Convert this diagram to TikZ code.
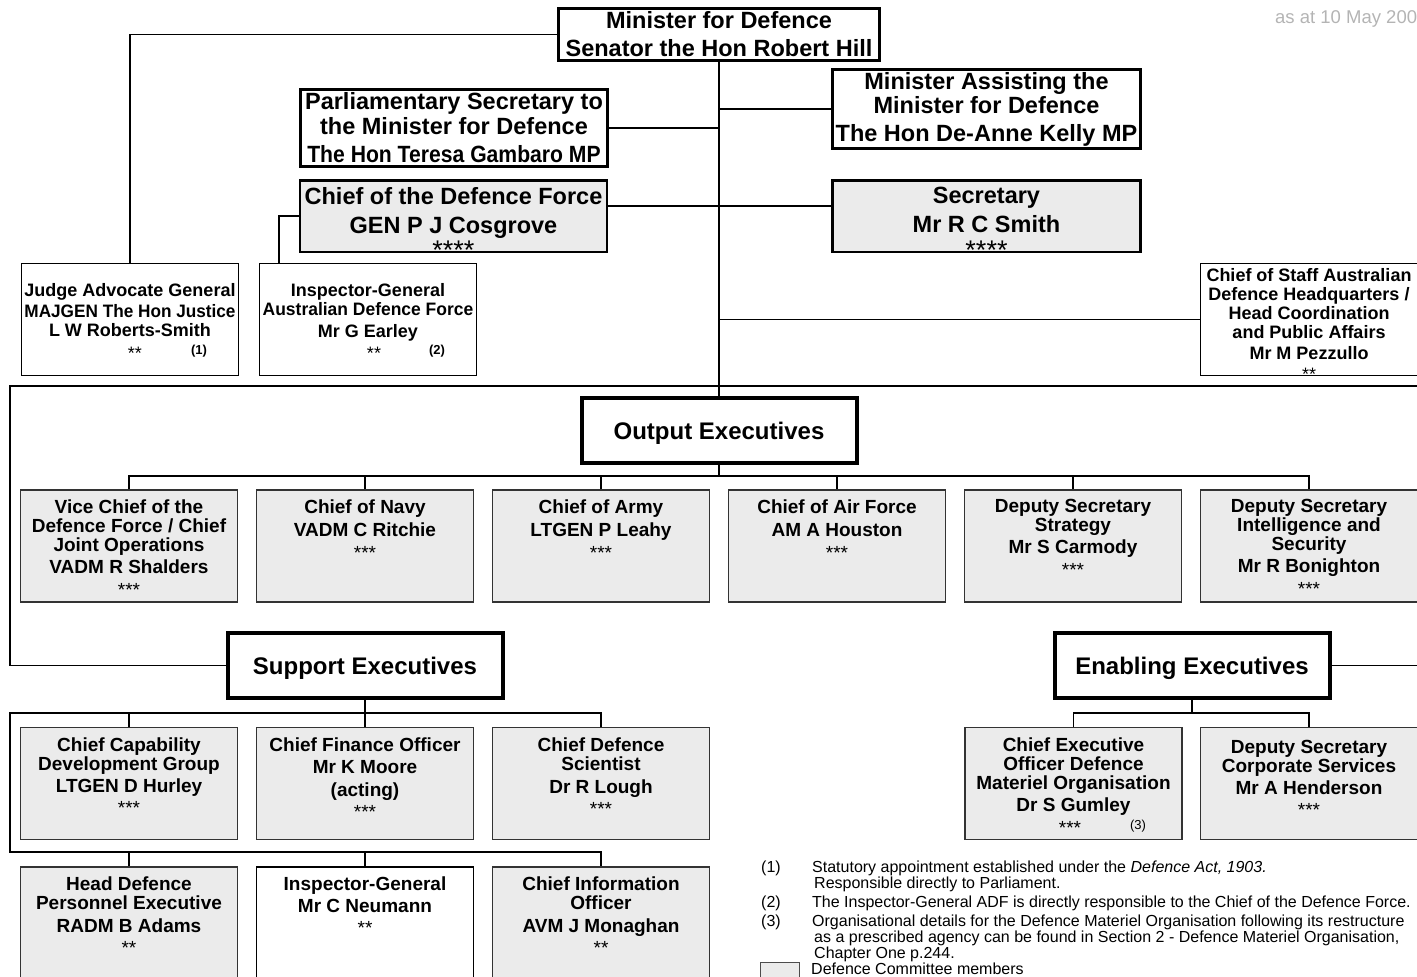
\documentclass[tikz,border=0pt]{standalone}
\usepackage{fontspec}
\setmainfont{Liberation Sans}
\usepackage{tikz}
\usetikzlibrary{positioning}

\definecolor{dcgrey}{HTML}{EBEBEB}
\definecolor{dategrey}{HTML}{B4B4B4}

\begin{document}
\begin{tikzpicture}[x=1pt,y=-1pt,
    topbox/.style={draw,line width=2.5pt,align=center,inner sep=0pt,font=\bfseries\fontsize{23.5}{24}\selectfont},
    headbox/.style={draw,line width=4pt,minimum width=275pt,minimum height=65pt,text depth=0pt,font=\bfseries\fontsize{24}{24}\selectfont},
    unit/.style={draw=black!80,line width=1.3pt,fill=dcgrey,minimum width=217pt,minimum height=112pt,inner sep=0pt},
    plain/.style={unit,fill=white,draw=black,line width=1.2pt},
    txt/.style={align=center,inner sep=0pt,font=\bfseries\fontsize{19}{19}\selectfont},
    small/.style={txt,font=\bfseries\fontsize{18}{19}\selectfont},
    note/.style={align=left,inner sep=0pt,anchor=north west,font=\fontsize{16}{16}\selectfont},
    link/.style={line width=1.3pt}]
  \useasboundingbox (0,0) rectangle (1417,977);

  \node[anchor=north west,inner sep=0pt,text=dategrey,font=\fontsize{18.5}{18.5}\selectfont] (date) at (1275,10.5) {as at 10 May 200};

  % ministers
  \node[topbox,minimum width=321pt,minimum height=52pt] (min) at (719,34.5) {Minister for Defence\\[4pt]Senator the Hon Robert Hill};
  \node[topbox,minimum width=307pt,minimum height=77pt] (parl) at (454,128) {Parliamentary Secretary to\\[1pt]the Minister for Defence\\[4pt]\scalebox{0.9}[1]{The Hon Teresa Gambaro MP}};
  \node[topbox,minimum width=308pt,minimum height=79pt] (mina) at (986.5,109) {Minister Assisting the\\Minister for Defence\\[4pt]The Hon De-Anne Kelly MP};

  \node[topbox,fill=dcgrey,minimum width=307pt,minimum height=71.5pt] (cdf) at (453.5,216) {};
  \node[txt,font=\bfseries\fontsize{23.5}{24}\selectfont,below=8pt of cdf.north] (cdf-t) {Chief of the Defence Force\\[5pt]GEN P J Cosgrove\\[2.5pt]{\mdseries\fontsize{27}{24}\selectfont ****}};
  \node[topbox,fill=dcgrey,minimum width=308pt,minimum height=71.5pt] (sec) at (986.5,216) {};
  \node[txt,font=\bfseries\fontsize{23.5}{24}\selectfont,below=8pt of sec.north] (sec-t) {Secretary\\[5pt]Mr R C Smith\\[2.5pt]{\mdseries\fontsize{27}{24}\selectfont ****}};

  % reporting to the minister
  \node[plain] (jag) at (130,319.5) {};
  \node[small,below=20pt of jag.north] (jag-t) {Judge Advocate General\\[2pt]\scalebox{0.955}[1]{MAJGEN The Hon Justice}\\L W Roberts-Smith};
  \node[anchor=base,inner sep=0pt,font=\fontsize{18}{18}\selectfont] (jag-s) at (135,359) {**};
  \node[anchor=base,inner sep=0pt,font=\bfseries\fontsize{13}{13}\selectfont] (jag-n) at (199,354) {(1)};

  \node[plain] (igadf) at (368,319.5) {};
  \node[small,below=20pt of igadf.north] (igadf-t) {Inspector-General\\\scalebox{0.97}[1]{Australian Defence Force}\\[3pt]Mr G Earley};
  \node[anchor=base,inner sep=0pt,font=\fontsize{18}{18}\selectfont] (igadf-s) at (374,359) {**};
  \node[anchor=base,inner sep=0pt,font=\bfseries\fontsize{13}{13}\selectfont] (igadf-n) at (437,354) {(2)};

  \node[plain] (cos) at (1309,319.5) {};
  \node[small,below=5pt of cos.north] (cos-t) {Chief of Staff Australian\\Defence Headquarters /\\Head Coordination\\and Public Affairs\\[2pt]Mr M Pezzullo\\[2pt]{\mdseries **}};

  % output executives
  \node[headbox] (outexec) at (719,430.5) {Output Executives};

  \node[unit] (vcdf) at (129,546) {};
  \node[txt,below=10pt of vcdf.north] (vcdf-t) {Vice Chief of the\\Defence Force / Chief\\Joint Operations\\[3pt]VADM R Shalders\\[4pt]{\mdseries ***}};
  \node[unit] (navy) at (365,546) {};
  \node[txt,below=10pt of navy.north] (navy-t) {Chief of Navy\\[4pt]VADM C Ritchie\\[4pt]{\mdseries ***}};
  \node[unit] (army) at (601,546) {};
  \node[txt,below=10pt of army.north] (army-t) {Chief of Army\\[4pt]LTGEN P Leahy\\[4pt]{\mdseries ***}};
  \node[unit] (caf) at (837,546) {};
  \node[txt,below=10pt of caf.north] (caf-t) {Chief of Air Force\\[4pt]AM A Houston\\[4pt]{\mdseries ***}};
  \node[unit] (dss) at (1073,546) {};
  \node[txt,below=10pt of dss.north] (dss-t) {Deputy Secretary\\Strategy\\[3pt]Mr S Carmody\\[4pt]{\mdseries ***}};
  \node[unit] (dsis) at (1309,546) {};
  \node[txt,below=10pt of dsis.north] (dsis-t) {Deputy Secretary\\Intelligence and\\Security\\[3pt]Mr R Bonighton\\[4pt]{\mdseries ***}};

  % support executives
  \node[headbox] (supp) at (365,665.5) {Support Executives};

  \node[unit] (ccdg) at (129,783.5) {};
  \node[txt,below=11pt of ccdg.north] (ccdg-t) {Chief Capability\\Development Group\\[3pt]LTGEN D Hurley\\[3pt]{\mdseries ***}};
  \node[unit] (cfo) at (365,783.5) {};
  \node[txt,below=11pt of cfo.north] (cfo-t) {Chief Finance Officer\\[3pt]Mr K Moore\\[4pt](acting)\\[3pt]{\mdseries ***}};
  \node[unit] (cds) at (601,783.5) {};
  \node[txt,below=11pt of cds.north] (cds-t) {Chief Defence\\Scientist\\[4pt]Dr R Lough\\[3pt]{\mdseries ***}};

  \node[unit,minimum height=120pt] (hdpe) at (129,927) {};
  \node[txt,below=10pt of hdpe.north] (hdpe-t) {Head Defence\\Personnel Executive\\[4pt]RADM B Adams\\[3pt]{\mdseries **}};
  \node[plain,minimum height=120pt] (ign) at (365,927) {};
  \node[txt,below=10pt of ign.north] (ign-t) {Inspector-General\\[3pt]Mr C Neumann\\[3pt]{\mdseries **}};
  \node[unit,minimum height=120pt] (cio) at (601,927) {};
  \node[txt,below=10pt of cio.north] (cio-t) {Chief Information\\Officer\\[4pt]AVM J Monaghan\\[3pt]{\mdseries **}};

  % enabling executives
  \node[headbox] (enab) at (1192,665.5) {Enabling Executives};

  \node[unit] (ceo) at (1073.5,783.5) {};
  \node[txt,below=11pt of ceo.north] (ceo-t) {Chief Executive\\Officer Defence\\Materiel Organisation\\[3pt]Dr S Gumley};
  \node[anchor=base,inner sep=0pt,font=\fontsize{19}{19}\selectfont] (ceo-s) at (1070,834) {***};
  \node[anchor=base,inner sep=0pt,font=\fontsize{13}{13}\selectfont] (ceo-n) at (1138,829) {(3)};
  \node[unit] (dscs) at (1309,783.5) {};
  \node[txt,below=13pt of dscs.north] (dscs-t) {Deputy Secretary\\Corporate Services\\[3pt]Mr A Henderson\\[3pt]{\mdseries ***}};

  % lines of the top part
  \draw[link] (min.west) -| (jag.north);
  \draw[link] (min.south) -- (outexec.north);
  \draw[link] (parl.east) -- (parl.east -| min.south);
  \draw[link] (mina.west) -- (mina.west -| min.south);
  \draw[link] ([yshift=10pt]cdf.east) -- ([yshift=10pt]sec.west);
  \draw[link] (cdf.west) -| ([xshift=20pt]igadf.north west);
  \draw[link] (cos.west) -- (cos.west -| min.south);

  \coordinate (fl) at (10,386);
  \coordinate (fr) at (1425,386);
  \draw[link] (supp.west) -| (fl) -- (fr) |- (enab.east);

  % output lines
  \draw[link] (outexec.south) -- ++(0,11) coordinate (ob);
  \draw[link] (vcdf.north) |- (ob) -| (dsis.north);
  \draw[link] (navy.north) -- (navy.north |- ob);
  \draw[link] (army.north) -- (army.north |- ob);
  \draw[link] (caf.north) -- (caf.north |- ob);
  \draw[link] (dss.north) -- (dss.north |- ob);

  % support lines
  \coordinate (sl1) at (10,713);
  \coordinate (sl2) at (10,852);
  \draw[link] (supp.south) -- (supp.south |- sl1);
  \draw[link] (cds.north) |- (sl1) -- (sl2) -| (cio.north);
  \draw[link] (ccdg.north) -- (ccdg.north |- sl1);
  \draw[link] (cfo.north) -- (cfo.north |- sl1);
  \draw[link] (hdpe.north) -- (hdpe.north |- sl2);
  \draw[link] (ign.north) -- (ign.north |- sl2);

  % enabling lines
  \draw[link] (enab.south) -- ++(0,13) coordinate (eb);
  \draw[link] (ceo.north) |- (eb) -| (dscs.north);

  % notes
  \node[note,anchor=north] (fn1) at (771,861) {(1)};
  \node[note] (fn1-t) at (812,861) {Statutory appointment established under the \textit{Defence Act, 1903.}\\\hspace*{2pt}Responsible directly to Parliament.};
  \node[note,anchor=north] (fn2) at (771,896) {(2)};
  \node[note] (fn2-t) at (812,896) {The Inspector-General ADF is directly responsible to the Chief of the Defence Force.};
  \node[note,anchor=north] (fn3) at (771,915) {(3)};
  \node[note] (fn3-t) at (812,915) {Organisational details for the Defence Materiel Organisation following its restructure\\\hspace*{2pt}as a prescribed agency can be found in Section 2 - Defence Materiel Organisation,\\\hspace*{2pt}Chapter One p.244.};
  \node[draw=black!70,line width=1pt,fill=dcgrey,minimum width=39pt,minimum height=28pt,inner sep=0pt] (key) at (780,976) {};
  \node[note] (key-t) at (811,962.5) {Defence Committee members};
\end{tikzpicture}
\end{document}
